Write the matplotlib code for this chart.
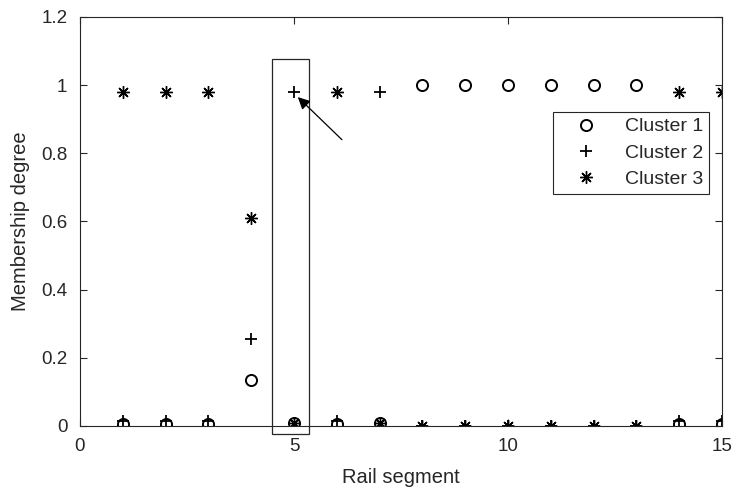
import matplotlib
matplotlib.use("Agg")
import matplotlib.pyplot as plt
from matplotlib.patches import Rectangle

plt.rcParams['font.family'] = ['Liberation Sans', 'DejaVu Sans']
GRAY = '#262626'

segments = list(range(1, 16))
cluster1 = [0.005, 0.005, 0.005, 0.135, 0.01, 0.005, 0.01, 1.0, 1.0, 1.0, 1.0, 1.0, 1.0, 0.005, 0.005]
cluster2 = [0.015, 0.015, 0.015, 0.255, 0.98, 0.015, 0.98, 0.0, 0.0, 0.0, 0.0, 0.0, 0.0, 0.015, 0.015]
cluster3 = [0.98, 0.98, 0.98, 0.61, 0.01, 0.98, 0.01, 0.0, 0.0, 0.0, 0.0, 0.0, 0.0, 0.98, 0.98]

fig = plt.figure(figsize=(7.31, 4.91), dpi=100)
ax = fig.add_axes([0.1094, 0.1324, 0.8783, 0.833])

ax.plot(segments, cluster1, linestyle='none', marker='o', markersize=8,
        markerfacecolor='none', markeredgecolor='black', markeredgewidth=1.4, label='Cluster 1')
ax.plot(segments, cluster2, linestyle='none', marker='+', markersize=9,
        color='black', markeredgewidth=1.3, label='Cluster 2')
ax.plot(segments, cluster3, linestyle='none', marker=(8, 2, 0), markersize=9,
        color='black', markeredgewidth=1.0, label='Cluster 3')

# highlight segment 5
ax.add_patch(Rectangle((4.49, -0.023), 0.86, 1.099, fill=False,
                       edgecolor=GRAY, linewidth=0.9, clip_on=False))
ax.annotate('', xy=(5.09, 0.965), xytext=(6.12, 0.84),
            arrowprops=dict(arrowstyle='-|>', color='black', lw=0.9,
                            mutation_scale=18, shrinkA=0, shrinkB=0))

ax.set_xlim(0, 15)
ax.set_ylim(0, 1.2)
ax.set_xticks([0, 5, 10, 15])
ax.set_yticks([0, 0.2, 0.4, 0.6, 0.8, 1.0, 1.2])
ax.set_yticklabels(['0', '0.2', '0.4', '0.6', '0.8', '1', '1.2'])
ax.tick_params(direction='in', top=True, right=True, labelsize=13.5, length=5,
               width=0.8, colors=GRAY, labelcolor=GRAY)
ax.tick_params(axis='x', pad=9)
ax.tick_params(axis='y', pad=9)
for s in ax.spines.values():
    s.set_linewidth(0.8)
    s.set_color(GRAY)
ax.set_xlabel('Rail segment', fontsize=14.5, color=GRAY, labelpad=9)
ax.set_ylabel('Membership degree', fontsize=14.5, color=GRAY, labelpad=8)

leg = ax.legend(loc='upper right', bbox_to_anchor=(0.98, 0.768), fontsize=14,
                frameon=True, fancybox=False, edgecolor=GRAY, framealpha=1,
                handletextpad=0.6, handlelength=2.8, borderpad=0.3, labelspacing=0.45,
                borderaxespad=0.0)
leg.get_frame().set_linewidth(0.8)
for t in leg.get_texts():
    t.set_color(GRAY)

fig.savefig('out.png', dpi=100)
